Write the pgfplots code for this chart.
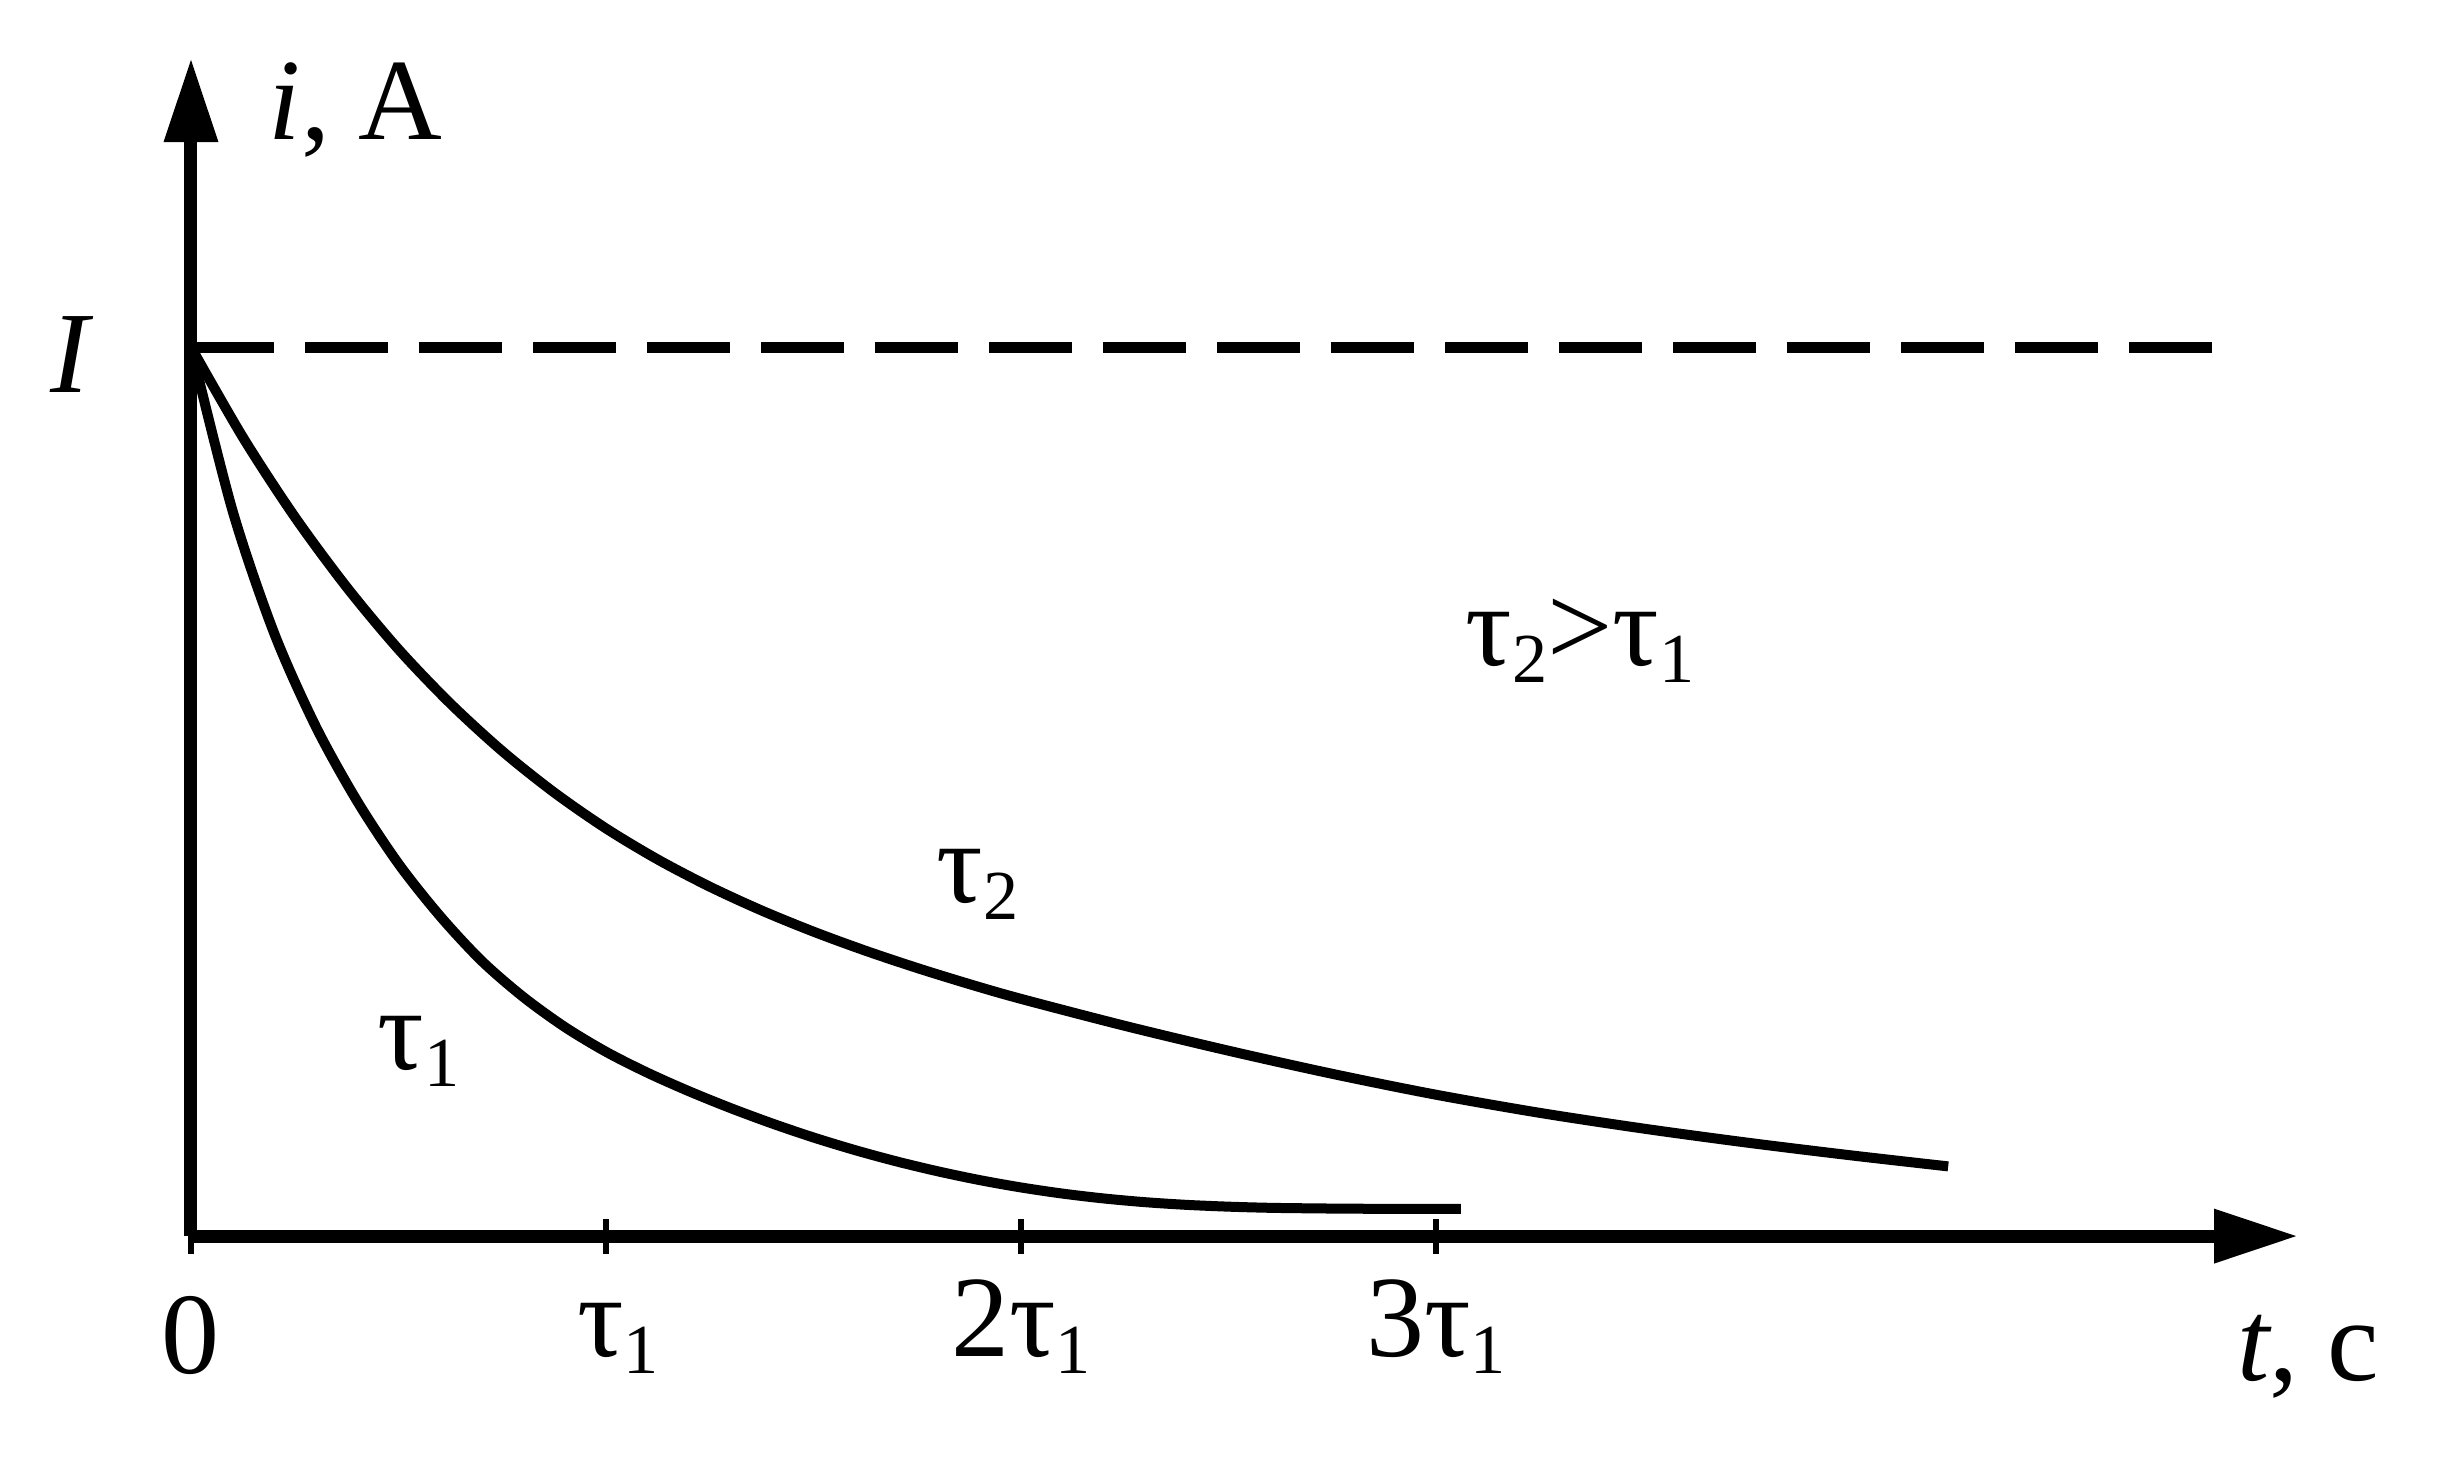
\documentclass[border=0pt]{standalone}
\usepackage{fontspec}
\setmainfont{Liberation Serif}
\usepackage{pgfplots}
\pgfplotsset{compat=1.18}
\usetikzlibrary{arrows.meta}
\newcommand{\bigf}{\fontsize{33}{40}\selectfont}
\newcommand{\sub}[1]{\raisebox{-0.17cm}{\fontsize{20}{24}\selectfont #1}}
\begin{document}
\begin{tikzpicture}
\begin{axis}[
  scale only axis,
  width=21.07cm, height=11.78cm,
  xmin=0, xmax=5.077, ymin=0, ymax=1.325,
  axis lines=left,
  axis line style={line width=0.13cm, -{Triangle[length=0.84cm,width=0.51cm]}},
  xtick={0,1,2,3},
  xticklabels={{\raisebox{-0.17cm}{0}}, {\hspace{0.24cm}τ\sub{1}}, {2τ\sub{1}}, {3τ\sub{1}}},
  xticklabel style={font=\bigf, anchor=base, inner sep=0pt, yshift=-1.03cm},
  ytick=\empty,
  tick align=center,
  major tick length=0.35cm,
  every tick/.style={black, line width=0.06cm},
  clip=false,
]
\addplot[black, line width=0.11cm, dash pattern=on 0.833cm off 0.307cm] coordinates {(0,1) (4.872,1)};
% tau_1 curve
\addplot[black, line width=0.10cm, smooth] coordinates {
(0,1.0) (0.1,0.8161) (0.2,0.6786) (0.3,0.5738) (0.4,0.4895) (0.5,0.4188)
(0.6,0.3600) (0.7,0.3097) (0.8,0.2692) (0.9,0.2354) (1.0,0.2073)
(1.1,0.1837) (1.2,0.1629) (1.3,0.1440) (1.4,0.1267) (1.5,0.1109)
(1.6,0.0967) (1.7,0.0840) (1.8,0.0728) (1.9,0.0630) (2.0,0.0547)
(2.1,0.0478) (2.2,0.0423) (2.3,0.0381) (2.4,0.0351) (2.5,0.0331)
(2.6,0.0318) (2.7,0.0312) (2.8,0.0308) (2.9,0.0307) (3.06,0.0307)};
% tau_2 curve
\addplot[black, line width=0.10cm, smooth] coordinates {
(0,1.0) (0.125,0.8985) (0.25,0.809) (0.375,0.730) (0.5,0.660) (0.625,0.599)
(0.75,0.5455) (0.875,0.499) (1.0,0.4585) (1.125,0.4235) (1.25,0.393)
(1.375,0.3662) (1.5,0.3424) (1.625,0.321) (1.75,0.3015) (1.875,0.2835)
(2.0,0.2668) (2.25,0.2365) (2.5,0.2085) (2.75,0.1825) (3.0,0.159)
(3.25,0.1386) (3.5,0.1209) (3.75,0.1051) (4.0,0.0908) (4.234,0.0784)};
\node[font=\bigf, anchor=base west, inner sep=0pt] at (axis cs:0.186,1.233) {\textit{i}, A};
\node[font=\bigf, anchor=base west, inner sep=0pt] at (axis cs:-0.340,0.949) {\textit{I}};
\node[font=\bigf, anchor=base west, inner sep=0pt] at (axis cs:3.070,0.642) {τ\sub{2}>τ\sub{1}};
\node[font=\bigf, anchor=base west, inner sep=0pt] at (axis cs:1.795,0.375) {τ\sub{2}};
\node[font=\bigf, anchor=base west, inner sep=0pt] at (axis cs:0.448,0.187) {τ\sub{1}};
\node[font=\bigf, anchor=base west, inner sep=0pt] at (axis cs:4.930,-0.162) {\textit{t}, с};
\coordinate (BL) at (axis cs:-0.4602,-0.2722);
\coordinate (TR) at (axis cs:5.448,1.3903);
\end{axis}
\pgfresetboundingbox
\path[use as bounding box] (BL) rectangle (TR);
\end{tikzpicture}
\end{document}
